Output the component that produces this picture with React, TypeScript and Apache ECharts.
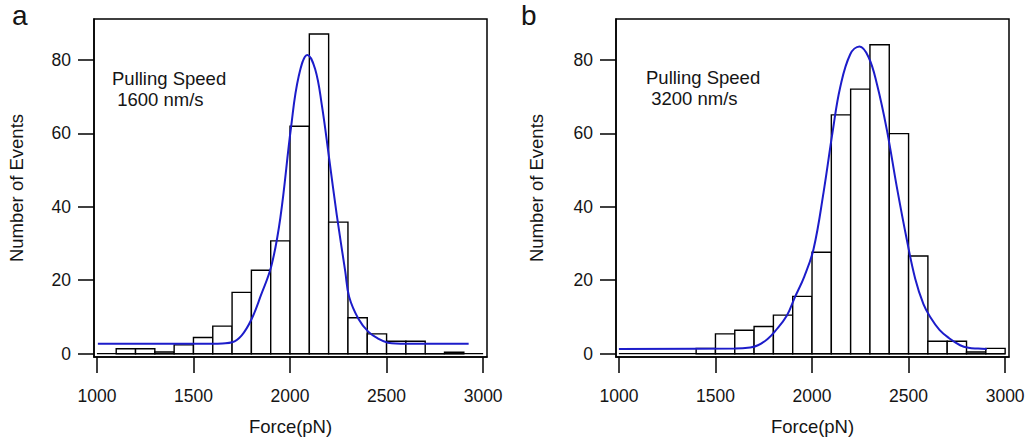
import React, { useEffect, useRef } from "react";
import * as echarts from "echarts";

// ---------- data ----------
const BIN_WIDTH = 100;

const LEFT_BIN_STARTS = [1100, 1200, 1300, 1400, 1500, 1600, 1700, 1800, 1900, 2000, 2100, 2200, 2300, 2400, 2500, 2600, 2700, 2800];
const LEFT_COUNTS = [1.35, 1.35, 0.45, 2.4, 4.4, 7.5, 16.7, 22.7, 30.7, 61.9, 87.0, 35.8, 9.8, 5.4, 3.4, 3.4, 0, 0.4];

const RIGHT_BIN_STARTS = [1400, 1500, 1600, 1700, 1800, 1900, 2000, 2100, 2200, 2300, 2400, 2500, 2600, 2700, 2800, 2900];
const RIGHT_COUNTS = [1.45, 5.4, 6.4, 7.4, 10.5, 15.6, 27.6, 65.0, 72.0, 84.1, 59.9, 26.6, 3.4, 3.4, 0.45, 1.45];

const LEFT_FIT_X = [1005, 1600, 1650, 1700, 1750, 1800, 1850, 1904, 1950, 2005, 2045, 2090, 2130, 2165, 2203, 2242, 2286, 2306, 2354, 2405, 2456, 2507, 2600, 2925];
const LEFT_FIT_Y = [2.7, 2.7, 2.8, 3.1, 5.0, 9.3, 16.0, 24.0, 37.0, 61.5, 75.5, 81.3, 77.5, 67.6, 53.0, 37.8, 22.4, 15.5, 9.5, 6.0, 4.1, 3.0, 2.7, 2.7];

const RIGHT_FIT_X = [1000, 1600, 1680, 1720, 1770, 1810, 1870, 1910, 1960, 2008, 2060, 2107, 2146, 2198, 2246, 2293, 2336, 2388, 2439, 2491, 2534, 2577, 2612, 2660, 2708, 2767, 2810, 2860, 2905];
const RIGHT_FIT_Y = [1.3, 1.4, 1.7, 2.3, 4.0, 6.2, 10.4, 15.2, 21.0, 28.5, 44.0, 60.5, 72.5, 81.5, 83.6, 80.7, 73.4, 60.8, 45.4, 31.0, 20.5, 13.5, 10.0, 6.5, 4.3, 2.3, 1.6, 1.4, 1.3];

const ZERO_LINE_X = [1000, 3000];

const X_TICKS = [1000, 1500, 2000, 2500, 3000];
const Y_TICKS = [0, 20, 40, 60, 80];

const X_NAME = "Force(pN)";
const Y_NAME = "Number of Events";
const PANEL_LABELS = ["a", "b"];
const SPEED_TITLE = "Pulling Speed";
const SPEED_VALUES = [" 1600 nm/s", " 3200 nm/s"];

// ---------- styling ----------
const FONT = "'Liberation Sans', Arial, Helvetica, sans-serif";
const TEXT_COLOR = "#151515";
const CURVE_COLOR = "#1c1cca";

function makeBars(starts: number[], counts: number[]) {
  return starts.map((s, i) => [s, s + BIN_WIDTH, counts[i]]);
}
function zip(xs: number[], ys: number[]) {
  return xs.map((x, i) => [x, ys[i]]);
}

const renderBar = (params: any, api: any) => {
  const x0 = api.value(0);
  const x1 = api.value(1);
  const y = api.value(2);
  const pTop = api.coord([x0, y]);
  const pBot = api.coord([x1, 0]);
  return {
    type: "rect",
    shape: {
      x: pTop[0],
      y: pTop[1],
      width: pBot[0] - pTop[0],
      height: pBot[1] - pTop[1],
    },
    style: { fill: "#fff", stroke: "#000", lineWidth: 1.4 },
  };
};

function xAxisFor(gridIndex: number) {
  return {
    type: "value",
    gridIndex,
    min: 985,
    max: 3020,
    splitLine: { show: false },
    axisLine: { show: true, onZero: false, lineStyle: { color: "#000", width: 1.5 } },
    axisTick: {
      show: true,
      length: 16,
      inside: false,
      customValues: X_TICKS,
      lineStyle: { color: "#000", width: 1.5 },
    },
    axisLabel: {
      show: true,
      customValues: X_TICKS,
      formatter: (v: number) => String(v),
      margin: 30,
      fontSize: 17.5,
      fontFamily: FONT,
      color: TEXT_COLOR,
    },
    name: X_NAME,
    nameLocation: "middle",
    nameGap: 60,
    nameTextStyle: { fontSize: 18.5, fontFamily: FONT, color: TEXT_COLOR },
  };
}

function yAxisFor(gridIndex: number, nameGap: number) {
  return {
    type: "value",
    gridIndex,
    min: -0.9,
    max: 91.1,
    splitLine: { show: false },
    axisLine: { show: true, onZero: false, lineStyle: { color: "#000", width: 1.5 } },
    axisTick: {
      show: true,
      length: 16,
      inside: false,
      customValues: Y_TICKS,
      lineStyle: { color: "#000", width: 1.5 },
    },
    axisLabel: {
      show: true,
      customValues: Y_TICKS,
      formatter: (v: number) => String(v),
      margin: 23,
      fontSize: 17.5,
      fontFamily: FONT,
      color: TEXT_COLOR,
    },
    name: Y_NAME,
    nameLocation: "middle",
    nameRotate: 90,
    nameGap,
    nameTextStyle: { fontSize: 18.5, fontFamily: FONT, color: TEXT_COLOR },
  };
}

function textEl(text: string, x: number, y: number, size: number) {
  return {
    type: "text",
    x,
    y,
    style: {
      text,
      font: `${size}px ${FONT}`,
      fill: TEXT_COLOR,
      textAlign: "left",
      textVerticalAlign: "middle",
    },
  };
}

export default function App() {
  const ref = useRef<HTMLDivElement>(null);

  useEffect(() => {
    if (!ref.current) return;
    const chart = echarts.init(ref.current, null, { renderer: "svg" });

    const fitLine = (idx: number, xs: number[], ys: number[]) => ({
      type: "line",
      xAxisIndex: idx,
      yAxisIndex: idx,
      data: zip(xs, ys),
      symbol: "none",
      smooth: 0.4,
      lineStyle: { color: CURVE_COLOR, width: 2 },
      z: 4,
    });

    const zeroLine = (idx: number) => ({
      type: "line",
      xAxisIndex: idx,
      yAxisIndex: idx,
      data: ZERO_LINE_X.map((x) => [x, 0]),
      symbol: "none",
      lineStyle: { color: "#000", width: 1.3 },
      z: 3,
    });

    const bars = (idx: number, starts: number[], counts: number[]) => ({
      type: "custom",
      xAxisIndex: idx,
      yAxisIndex: idx,
      renderItem: renderBar,
      data: makeBars(starts, counts),
      encode: { x: [0, 1], y: 2 },
      silent: true,
      z: 2,
    });

    const option: any = {
      animation: false,
      backgroundColor: "#fff",
      grid: [
        { left: 94, top: 19, width: 393, height: 340, show: true, borderColor: "#000", borderWidth: 1.5, backgroundColor: "transparent" },
        { left: 616, top: 19, width: 393, height: 340, show: true, borderColor: "#000", borderWidth: 1.5, backgroundColor: "transparent" },
      ],
      xAxis: [xAxisFor(0), xAxisFor(1)],
      yAxis: [yAxisFor(0, 68), yAxisFor(1, 70)],
      series: [
        bars(0, LEFT_BIN_STARTS, LEFT_COUNTS),
        bars(1, RIGHT_BIN_STARTS, RIGHT_COUNTS),
        zeroLine(0),
        zeroLine(1),
        fitLine(0, LEFT_FIT_X, LEFT_FIT_Y),
        fitLine(1, RIGHT_FIT_X, RIGHT_FIT_Y),
      ],
      graphic: [
        textEl(PANEL_LABELS[0], 12, 15.5, 28),
        textEl(PANEL_LABELS[1], 521, 15.5, 28),
        textEl(SPEED_TITLE, 112, 78.7, 18.5),
        textEl(SPEED_VALUES[0], 112, 99.7, 18.5),
        textEl(SPEED_TITLE, 646, 77.7, 18.5),
        textEl(SPEED_VALUES[1], 646, 98.7, 18.5),
      ],
    };

    chart.setOption(option);
    return () => {
      chart.dispose();
    };
  }, []);

  return (
    <div
      ref={ref}
      style={{ position: "absolute", left: 0, top: 0, width: 1030, height: 441 }}
    />
  );
}
